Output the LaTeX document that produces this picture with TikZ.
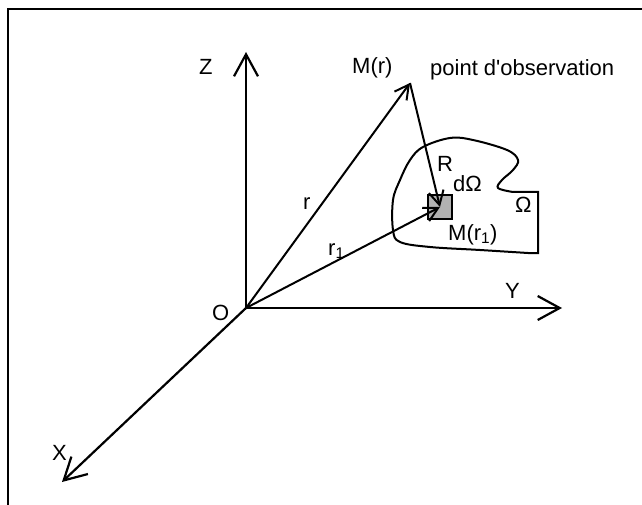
\documentclass[tikz,border=0pt]{standalone}
\usepackage{fontspec}
\setmainfont{Liberation Sans}
\usetikzlibrary{arrows.meta}
\definecolor{cellgray}{gray}{0.7}

\begin{document}
\begin{tikzpicture}[x=1pt,y=-1pt,>={Straight Barb[length=22pt,width=24pt]},
    lbl/.style={font=\fontsize{22}{26}\selectfont,inner sep=0pt,anchor=base west},
    axis/.style={line width=2.2pt,->},
    vec/.style={line width=2pt,-{Straight Barb[length=14pt,width=15pt]}}]
    \useasboundingbox (0,0) rectangle (642,505);
    \draw[line width=2.2pt] (8,505)--(8,9)--(642,9);
    \coordinate (O) at (246,308);
    \coordinate (Z) at (246,52);
    \coordinate (Y) at (562,308);
    \coordinate (X) at (62,482);
    \coordinate (M) at (410,83);
    \coordinate (M1) at (440,207);
    \draw[axis] (O)--(Z);
    \draw[axis] (O)--(Y);
    \draw[axis] (O)--(X);
    \draw[line width=2pt] (513,192)--(538,192)--(538,253)--(528,253)
        -- plot[smooth,tension=0.6] coordinates {(528,253) (480,250) (430,247) (400,242)
        (393,230) (393,200) (400,180) (410,160) (423,147) (450,138) (473,140)
        (507,150) (518,160) (513,170) (502,180) (498,188) (513,192)};
    \draw[fill=cellgray,line width=1.8pt] (428,195) rectangle (452,219);
    \draw[vec] (O)--(M);
    \draw[vec] (O)--(M1);
    \draw[vec] (M)--(M1);
    \foreach \name/\pos/\txt in {lZ/{(199,75)}/Z,lO/{(212,320)}/O,lY/{(505,298)}/Y,
        lX/{(52,460)}/X,lM/{(352,74)}/M(r),lobs/{(430,76)}/point d\textquotesingle observation,
        lR/{(437,172)}/R,ldom/{(453,192)}/dΩ,lom/{(515,212)}/Ω,
        lM1/{(448,240)}/M(r\textsubscript{1}),lr/{(303,209)}/r,lr1/{(328,255)}/r\textsubscript{1}}
        \node[lbl] (\name) at \pos {\txt};
\end{tikzpicture}
\end{document}
